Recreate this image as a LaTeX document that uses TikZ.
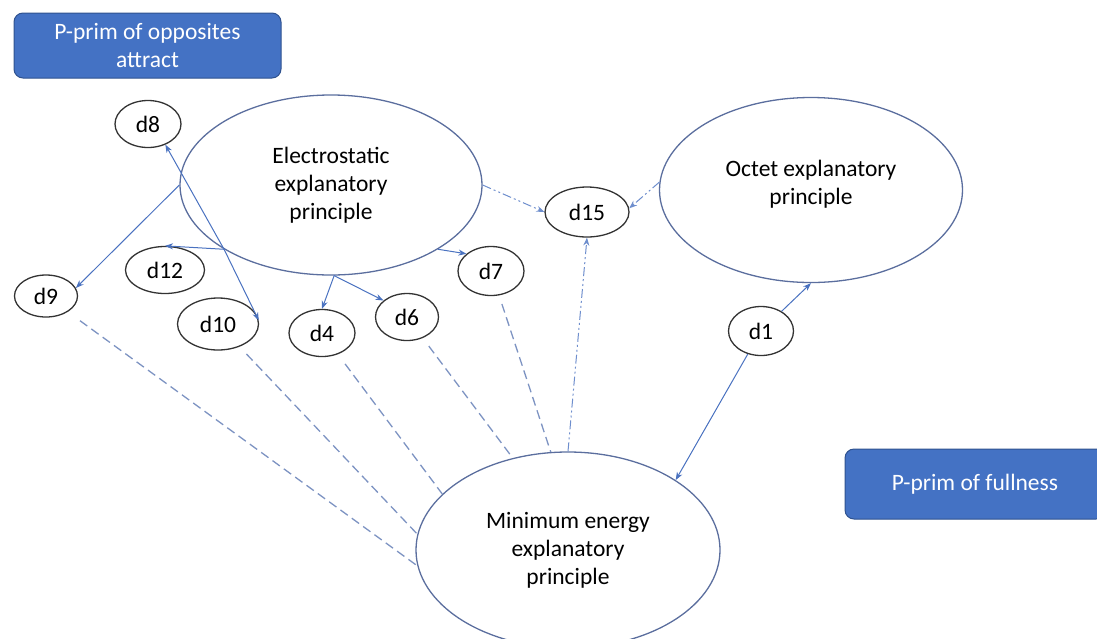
\documentclass[tikz,border=0pt]{standalone}
\usepackage{fontspec}
\setmainfont{Carlito}
\usetikzlibrary{arrows.meta, shapes.geometric}
\definecolor{primblue}{HTML}{4472C4}
\definecolor{primedge}{HTML}{2F528F}
\definecolor{linkblue}{HTML}{4A72C0}
\definecolor{bigedge}{HTML}{5B6E9E}
\definecolor{dashblue}{HTML}{7D93C2}

\begin{document}
\begin{tikzpicture}[x=1pt,y=-1pt,>={Stealth[length=8pt,width=6pt]},
		font=\fontsize{23.5}{28}\selectfont,
		principle/.style={ellipse, draw=bigedge, line width=1.3pt, align=center, inner sep=0pt},
		dnode/.style={ellipse, draw=black!80, line width=1.3pt, minimum width=66pt, minimum height=47pt, inner sep=0pt},
		pprim/.style={rectangle, rounded corners=9pt, fill=primblue, draw=primedge, line width=1pt, text=white, align=center, inner sep=0pt},
		link/.style={->, draw=linkblue, line width=1pt},
		tie/.style={draw=dashblue, line width=1.3pt, dash pattern=on 9pt off 5pt},
		hint/.style={->, draw=linkblue!80, line width=1pt, dash pattern=on 9pt off 3pt on 2pt off 3pt on 2pt off 3pt}]
			\useasboundingbox (0,0) rectangle (1097,638);
			\node[pprim, minimum width=267pt, minimum height=65pt] (A) at (147.5,45.5) {P-prim of opposites\\attract};
			\node[pprim, minimum width=260pt, minimum height=70pt] (F) at (975,484) {P-prim of fullness};
			\node[principle, minimum width=302pt, minimum height=180pt] (E) at (331,185) {Electrostatic\\explanatory\\principle};
			\node[principle, minimum width=303pt, minimum height=185pt] (O) at (811,190) {Octet explanatory\\principle\rule[-15pt]{0pt}{0pt}};
			\node[principle, minimum width=304pt, minimum height=196pt] (M) at (568,550) {Minimum energy\\explanatory\\principle};
			\node[dnode] (d8) at (148,124) {d8};
			\node[dnode, minimum width=79pt] (d12) at (165,270) {d12};
			\node[dnode, minimum width=63pt, minimum height=42pt] (d9) at (46,296) {d9};
			\node[dnode, minimum width=81pt, minimum height=52pt] (d10) at (218,324) {d10};
			\node[dnode] (d4) at (322,333) {d4};
			\node[dnode, minimum width=63pt] (d6) at (407,317) {d6};
			\node[dnode, minimum height=49pt] (d7) at (491,271) {d7};
			\node[dnode, minimum width=84pt, minimum height=50pt] (d15) at (587,212) {d15};
			\node[dnode, minimum width=65pt, minimum height=49pt] (d1) at (761,331) {d1};
			\draw[link] (E.211) -- (d8.-50);
			\draw[link] (E.211) -- (d12.north);
			\draw[link] (E.211) -- (d10.5);
			\draw[link] (E.west) -- (d9.15);
			\draw[link] (E.272) -- (d4.north);
			\draw[link] (E.-88) -- (d6.145);
			\draw[link] (E.-31) -- (d7.145);
			\draw[hint] (E.east) -- (d15.west);
			\draw[hint] (O.177) -- (d15.5);
			\draw[hint] (M.north) -- (d15.south);
			\draw[link] (d1) -- (O.south);
			\draw[link] (d1) -- (M.33);
			\draw[tie, shorten <=15pt] (d9) -- (M.186);
			\draw[tie, shorten <=10pt] (d10) -- (M.174);
			\draw[tie, shorten <=12pt] (d4) -- (M.156);
			\draw[tie, shorten <=10pt] (d6) -- (M.121);
			\draw[tie, shorten <=9pt] (d7) -- (M.100);
		\end{tikzpicture}
\end{document}
